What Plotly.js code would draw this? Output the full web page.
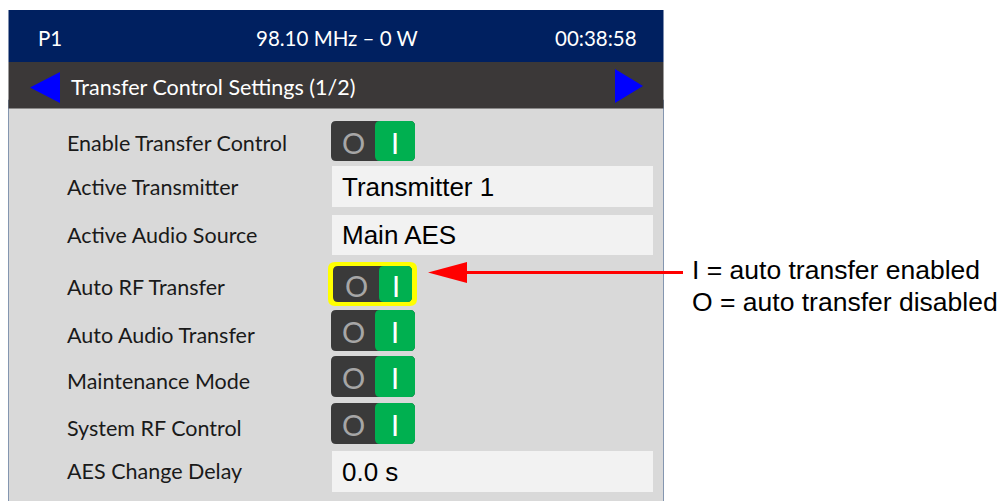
<!DOCTYPE html>
<html>
<head>
<meta charset="utf-8">
<script src="https://cdn.plot.ly/plotly-3.0.1.min.js"></script>
<style>html,body{margin:0;padding:0;background:#fff;}#chart{width:1002px;height:501px;}</style>
</head>
<body>
<div id="chart"></div>
<script>
// ---- content ----
var headerLeft = "P1";
var headerCenter = "98.10 MHz \u2013 0 W";
var headerRight = "00:38:58";
var pageTitle = "Transfer Control Settings (1/2)";
var rowLabels = ["Enable Transfer Control", "Active Transmitter", "Active Audio Source", "Auto RF Transfer",
                 "Auto Audio Transfer", "Maintenance Mode", "System RF Control", "AES Change Delay"];
var rowKinds  = ["toggle", "value", "value", "toggle", "toggle", "toggle", "toggle", "value"];
var rowValues = ["I", "Transmitter 1", "Main AES", "I", "I", "I", "I", "0.0 s"];
var highlightedRow = 3;
var calloutLines = ["I = auto transfer enabled", "O = auto transfer disabled"];

// ---- layout geometry (pixels) ----
var labelCenters = [143, 187, 235, 287, 335, 381, 428, 471];
var boxTops = [121, 166, 215, 266, 310, 356, 403, 451];
var boxBottoms = [161, 207, 255, 302, 351, 397, 444, 492];

function rr(x0, y0, x1, y1, r) {
  return "M" + (x0 + r) + "," + y0 + " L" + (x1 - r) + "," + y0 +
    " Q" + x1 + "," + y0 + " " + x1 + "," + (y0 + r) +
    " L" + x1 + "," + (y1 - r) + " Q" + x1 + "," + y1 + " " + (x1 - r) + "," + y1 +
    " L" + (x0 + r) + "," + y1 + " Q" + x0 + "," + y1 + " " + x0 + "," + (y1 - r) +
    " L" + x0 + "," + (y0 + r) + " Q" + x0 + "," + y0 + " " + (x0 + r) + "," + y0 + " Z";
}

var shapes = [];
var ann = [];
var uiFont = "Lato, 'Open Sans', sans-serif";
var valFont = "'Liberation Sans', Arial, sans-serif";

// body
shapes.push({type: "rect", x0: 8.5, x1: 663.5, y0: 100, y1: 520, fillcolor: "#d9d9d9", line: {color: "#8496b0", width: 1}, layer: "below"});
// header
shapes.push({type: "rect", x0: 8.5, x1: 663.5, y0: 10, y1: 62, fillcolor: "#002060", line: {width: 0}});
// title bar
shapes.push({type: "rect", x0: 8.5, x1: 663.5, y0: 62, y1: 108.5, fillcolor: "#3b3838", line: {width: 0}});
// triangles
shapes.push({type: "path", path: "M30,87.5 L60,72 L60,103 Z", fillcolor: "#0000ff", line: {width: 0}});
shapes.push({type: "path", path: "M643,86 L615,69 L615,103 Z", fillcolor: "#0000ff", line: {width: 0}});

ann.push({x: 36, y: 38, text: headerLeft, xanchor: "left", font: {family: uiFont, size: 20.5, color: "#ffffff"}});
ann.push({x: 337, y: 38, text: headerCenter, xanchor: "center", font: {family: uiFont, size: 20.5, color: "#ffffff"}});
ann.push({x: 639, y: 38, text: headerRight, xanchor: "right", font: {family: uiFont, size: 20.5, color: "#ffffff"}});
ann.push({x: 69, y: 87, text: pageTitle, xanchor: "left", font: {family: uiFont, size: 21.5, color: "#ffffff"}});

for (var i = 0; i < rowLabels.length; i++) {
  var yc = labelCenters[i];
  ann.push({x: 65, y: yc, text: rowLabels[i], xanchor: "left", font: {family: uiFont, size: 21.5, color: "#1a1a1a"}});
  var t = boxTops[i], b = boxBottoms[i];
  if (rowKinds[i] === "value") {
    shapes.push({type: "rect", x0: 332, x1: 653, y0: t, y1: b, fillcolor: "#f2f2f2", line: {width: 0}});
    ann.push({x: 340, y: (t + b) / 2, text: rowValues[i], xanchor: "left", font: {family: valFont, size: 26, color: "#000000"}});
  } else {
    var x0 = 331, x1 = 415, gx = 375;
    if (i === highlightedRow) {
      shapes.push({type: "path", path: rr(328, t - 4, 417, b + 4, 7), fillcolor: "#ffff00", line: {width: 0}});
      x0 = 333; x1 = 412; gx = 379;
    }
    shapes.push({type: "path", path: rr(x0, t, x1, b, 5), fillcolor: "#3a3a3a", line: {width: 0}});
    shapes.push({type: "path", path: rr(gx, t, x1, b, 5), fillcolor: "#00b050", line: {width: 0}});
    ann.push({x: (x0 + gx) / 2, y: (t + b) / 2 + 1, text: "O", xanchor: "center", font: {family: uiFont, size: 29, color: "#a6a6a6"}});
    ann.push({x: (gx + x1) / 2, y: (t + b) / 2 + 1, text: "I", xanchor: "center", font: {family: uiFont, size: 29, color: "#ffffff"}});
  }
}

// callout arrow
shapes.push({type: "line", x0: 465, x1: 683, y0: 272.5, y1: 272.5, line: {color: "#ff0000", width: 3}});
shapes.push({type: "path", path: "M428,272.5 L467,262 L467,283 Z", fillcolor: "#ff0000", line: {width: 0}});
ann.push({x: 690, y: 270, text: calloutLines[0], xanchor: "left", font: {family: valFont, size: 26.5, color: "#000000"}});
ann.push({x: 690, y: 302, text: calloutLines[1], xanchor: "left", font: {family: valFont, size: 26.5, color: "#000000"}});

ann.forEach(function (a) { a.xref = "x"; a.yref = "y"; a.showarrow = false; a.yanchor = "middle"; });
shapes.forEach(function (s) { s.xref = "x"; s.yref = "y"; });

var layout = {
  width: 1002, height: 501,
  margin: {l: 0, r: 0, t: 0, b: 0, pad: 0},
  paper_bgcolor: "#ffffff", plot_bgcolor: "#ffffff",
  xaxis: {range: [0, 1002], visible: false, fixedrange: true},
  yaxis: {range: [501, 0], visible: false, fixedrange: true},
  shapes: shapes, annotations: ann, showlegend: false
};
Plotly.newPlot("chart", [], layout, {staticPlot: true, displayModeBar: false});
</script>
</body>
</html>
